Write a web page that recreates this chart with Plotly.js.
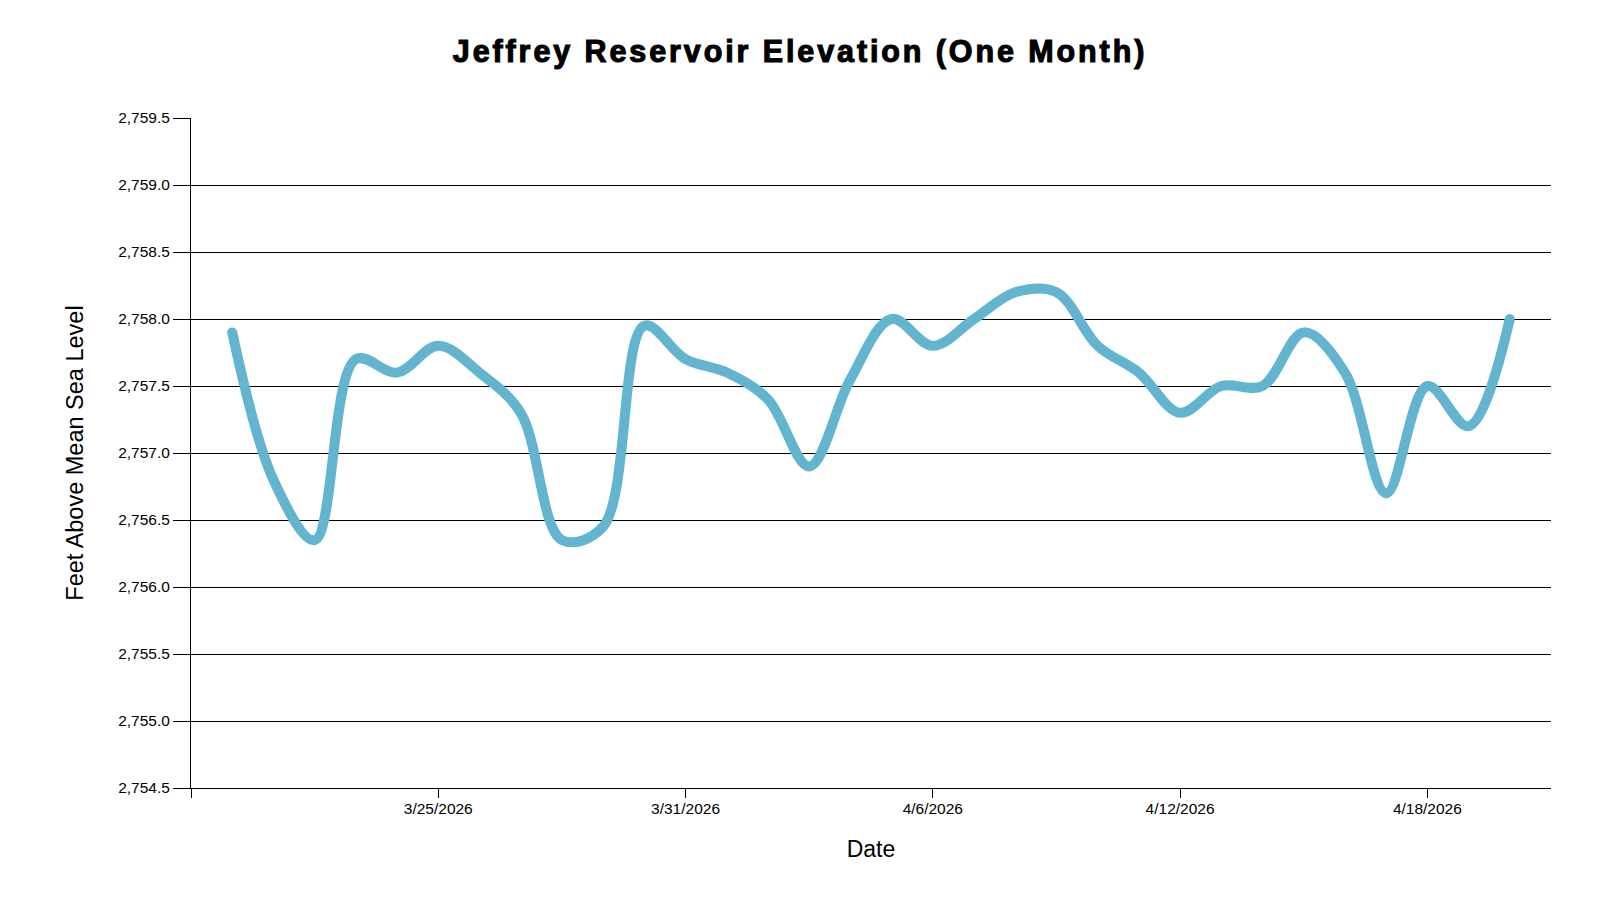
<!DOCTYPE html>
<html>
<head>
<meta charset="utf-8">
<script src="https://cdn.plot.ly/plotly-3.0.1.min.js"></script>
<style>
html,body{margin:0;padding:0;background:#fff;}
#chart{width:1600px;height:900px;}
.js-line{stroke-linecap:round;stroke-linejoin:round;}
.gtitle{stroke:#000;stroke-width:1.1px;letter-spacing:2.9px;}
</style>
</head>
<body>
<div id="chart"></div>
<script>
const dates = ["2026-03-20","2026-03-21","2026-03-22","2026-03-23","2026-03-24","2026-03-25","2026-03-26","2026-03-27","2026-03-28","2026-03-29","2026-03-30","2026-03-31","2026-04-01","2026-04-02","2026-04-03","2026-04-04","2026-04-05","2026-04-06","2026-04-07","2026-04-08","2026-04-09","2026-04-10","2026-04-11","2026-04-12","2026-04-13","2026-04-14","2026-04-15","2026-04-16","2026-04-17","2026-04-18","2026-04-19","2026-04-20"];
const elevation = [2757.9,2756.8,2756.35,2757.7,2757.6,2757.8,2757.6,2757.3,2756.35,2756.45,2757.95,2757.7,2757.6,2757.4,2756.9,2757.55,2758.0,2757.8,2758.0,2758.2,2758.2,2757.8,2757.6,2757.3,2757.5,2757.5,2757.9,2757.6,2756.7,2757.5,2757.2,2758.0];
const xTickVals = ["2026-03-19","2026-03-25","2026-03-31","2026-04-06","2026-04-12","2026-04-18"];
const xTickText = ["","3/25/2026","3/31/2026","4/6/2026","4/12/2026","4/18/2026"];
const yTickVals = [2754.5,2755.0,2755.5,2756.0,2756.5,2757.0,2757.5,2758.0,2758.5,2759.0,2759.5];
const yTickText = ["2,754.5","2,755.0","2,755.5","2,756.0","2,756.5","2,757.0","2,757.5","2,758.0","2,758.5","2,759.0","2,759.5"];

const font = "Arial, 'Liberation Sans', sans-serif";
Plotly.newPlot("chart", [{
  x: dates, y: elevation, type: "scatter", mode: "lines",
  line: {color: "#63b5cf", width: 10, shape: "spline", smoothing: 1},
  hoverinfo: "x+y"
}], {
  width: 1600, height: 900,
  paper_bgcolor: "#fff", plot_bgcolor: "#fff",
  margin: {l: 191, r: 49, t: 118, b: 112},
  showlegend: false,
  font: {family: font, color: "#000"},
  title: {text: "Jeffrey Reservoir Elevation (One Month)", font: {family: font, size: 30.5, weight: 700, color: "#000"},
          x: 0.5, xanchor: "center", y: 1 - 51/900, yanchor: "middle", yref: "container"},
  xaxis: {
    type: "date", range: ["2026-03-19", "2026-04-21"],
    tickvals: xTickVals, ticktext: xTickText,
    ticks: "outside", ticklen: 9, tickwidth: 1, tickcolor: "#000",
    ticklabelstandoff: -3,
    showline: true, linecolor: "#000", linewidth: 1, showgrid: false, zeroline: false,
    tickfont: {family: font, size: 15.5, color: "#000"},
    title: {text: "Date", font: {family: font, size: 23, color: "#000"}, standoff: 25}
  },
  yaxis: {
    range: [2754.5, 2759.5],
    tickvals: yTickVals, ticktext: yTickText,
    ticks: "outside", ticklen: 17, tickwidth: 1, tickcolor: "#000",
    showline: true, linecolor: "#000", linewidth: 1,
    showgrid: true, gridcolor: "#000", gridwidth: 1, zeroline: false,
    tickfont: {family: font, size: 15.5, color: "#000"},
    title: {text: "Feet Above Mean Sea Level", font: {family: font, size: 23.5, color: "#000"}, standoff: 27}
  }
}, {displayModeBar: false});
</script>
</body>
</html>
